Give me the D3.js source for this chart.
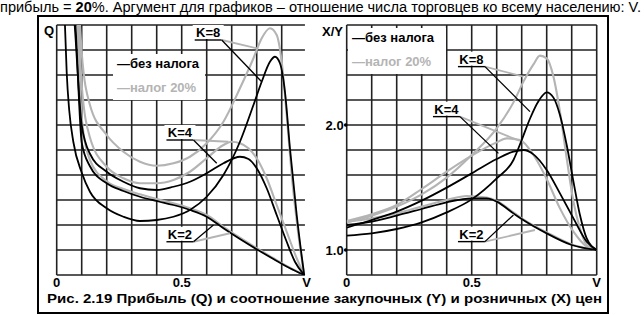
<!DOCTYPE html>
<html>
<head>
<meta charset="utf-8">
<script src="https://cdn.jsdelivr.net/npm/d3@7"></script>
<style>
body {margin:0; background:#fff;}
svg {display:block;}
text {font-family: Arial, "Liberation Sans", sans-serif;}
</style>
</head>
<body>
<svg id="fig" width="644" height="315"></svg>
<script>
// ---- data: [V, value]
// left: profit Q (grid units)
var q_black_k8 = [[0.03,11],[0.033,10],[0.04,8.1],[0.05,6.6],[0.067,5.3],[0.1,4.1],[0.133,3.33],[0.2,2.67],[0.267,2.33],[0.333,2.16],[0.4,2.2],[0.467,2.33],[0.533,2.6],[0.6,3.13],[0.667,4.0],[0.733,5.33],[0.787,6.8],[0.82,7.73],[0.853,8.53],[0.873,8.73],[0.893,8.47],[0.913,7.33],[0.933,5.07],[0.96,2.4],[0.99,0]];
var q_gray_k8 = [[0.085,11],[0.093,10],[0.1,8.9],[0.133,6.8],[0.2,5.6],[0.267,4.93],[0.333,4.53],[0.4,4.37],[0.467,4.47],[0.533,4.73],[0.6,5.27],[0.667,6.13],[0.733,7.47],[0.787,8.67],[0.82,9.47],[0.853,9.87],[0.88,9.6],[0.9,8.53],[0.92,6.4],[0.94,4.0],[0.967,1.6],[0.99,0]];
var q_black_k4 = [[0.065,11],[0.072,10],[0.1,6.0],[0.133,4.85],[0.2,4.13],[0.267,3.73],[0.333,3.47],[0.4,3.4],[0.467,3.53],[0.533,3.73],[0.6,4.07],[0.667,4.47],[0.733,4.73],[0.767,4.64],[0.8,4.27],[0.84,3.47],[0.88,2.4],[0.92,1.33],[0.953,0.53],[0.99,0]];
var q_gray_k4 = [[0.08,11],[0.088,10],[0.1,7.6],[0.133,5.5],[0.2,4.33],[0.267,3.87],[0.333,3.67],[0.4,3.67],[0.467,3.8],[0.533,4.13],[0.6,4.67],[0.667,5.2],[0.7,5.33],[0.733,5.27],[0.767,5.07],[0.8,4.67],[0.84,3.87],[0.88,2.8],[0.92,1.73],[0.96,0.67],[0.99,0]];
var q_black_k2 = [[0.068,11],[0.075,10],[0.1,5.3],[0.133,4.35],[0.2,3.67],[0.267,3.36],[0.333,3.13],[0.4,2.96],[0.467,2.8],[0.533,2.6],[0.6,2.33],[0.667,1.87],[0.733,1.44],[0.8,1.03],[0.867,0.64],[0.933,0.27],[0.99,0]];
var q_gray_k2 = [[0.075,11],[0.083,10],[0.1,6.3],[0.133,4.6],[0.2,3.75],[0.267,3.44],[0.333,3.23],[0.4,3.04],[0.467,2.87],[0.533,2.67],[0.6,2.4],[0.667,1.93],[0.733,1.49],[0.8,1.07],[0.867,0.67],[0.933,0.29],[0.99,0]];

// right: price ratio X/Y
var r_black_k2 = [[0,1.2],[0.1,1.227],[0.2,1.275],[0.3,1.328],[0.4,1.381],[0.5,1.413],[0.56,1.413],[0.6,1.387],[0.667,1.293],[0.7,1.248],[0.8,1.133],[0.9,1.04],[1,1.0]];
var r_gray_k2 = [[0,1.227],[0.1,1.253],[0.2,1.293],[0.3,1.347],[0.4,1.4],[0.48,1.432],[0.56,1.419],[0.6,1.392],[0.667,1.301],[0.7,1.253],[0.8,1.141],[0.9,1.045],[1,1.0]];
var r_black_k4 = [[0,1.179],[0.1,1.24],[0.2,1.307],[0.3,1.395],[0.4,1.499],[0.5,1.613],[0.6,1.728],[0.667,1.787],[0.707,1.8],[0.747,1.765],[0.8,1.64],[0.853,1.453],[0.907,1.253],[0.96,1.067],[1,1.0]];
var r_gray_k4 = [[0,1.232],[0.1,1.285],[0.2,1.36],[0.3,1.488],[0.4,1.627],[0.5,1.755],[0.6,1.861],[0.64,1.893],[0.693,1.88],[0.747,1.76],[0.8,1.568],[0.853,1.333],[0.907,1.147],[0.96,1.027],[1,1.0]];
var r_black_k8 = [[0,1.115],[0.1,1.133],[0.2,1.168],[0.3,1.221],[0.4,1.301],[0.5,1.405],[0.6,1.573],[0.667,1.72],[0.7,1.88],[0.733,2.05],[0.767,2.19],[0.8,2.261],[0.827,2.219],[0.853,2.08],[0.88,1.84],[0.907,1.547],[0.933,1.28],[0.96,1.093],[1,1.0]];
var r_gray_k8 = [[0,1.221],[0.1,1.275],[0.2,1.347],[0.3,1.445],[0.4,1.579],[0.5,1.76],[0.6,1.973],[0.667,2.181],[0.707,2.347],[0.747,2.485],[0.773,2.555],[0.8,2.533],[0.827,2.387],[0.853,2.107],[0.88,1.733],[0.907,1.387],[0.933,1.173],[0.96,1.04],[1,1.0]];

var x_ticks = [0, 0.5, 1];
var x_tick_labels = ["0", "0.5", "V"];
var r_y_ticks = [1.0, 2.0];
var r_y_tick_labels = ["1.0", "2.0"];

var legend_labels = ["\u2014\u0431\u0435\u0437 \u043d\u0430\u043b\u043e\u0433\u0430", "\u2014\u043d\u0430\u043b\u043e\u0433 20%"];
var k_labels = ["K=8", "K=4", "K=2"];
// label anchor (end of underline), gray curve hit, black curve hit
var q_k_anchor = [[0.66,9.4],[0.547,5.4],[0.547,1.33]];
var q_k_gray = [[0.8,9.07],[0.687,5.33],[0.693,1.67]];
var q_k_black = [[0.82,7.73],[0.64,4.47],[0.627,2.0]];
var r_k_anchor = [[0.553,2.467],[0.453,2.067],[0.553,1.067]];
var r_k_gray = [[0.707,2.387],[0.693,1.872],[0.753,1.16]];
var r_k_black = [[0.733,2.107],[0.607,1.773],[0.667,1.28]];

var gray = "#b4b4b4";
var gridcol = "#222";
var svg = d3.select("#fig");

// top text line (cut off above)
var head = svg.append("text").attr("x", 0).attr("y", 11.5)
  .attr("textLength", 641).attr("lengthAdjust", "spacingAndGlyphs")
  .style("font-size", "14px");
head.append("tspan").text("\u043f\u0440\u0438\u0431\u044b\u043b\u044c = ");
head.append("tspan").style("font-weight", "bold").text("20");
head.append("tspan").text("%. \u0410\u0440\u0433\u0443\u043c\u0435\u043d\u0442 \u0434\u043b\u044f \u0433\u0440\u0430\u0444\u0438\u043a\u043e\u0432 \u2013 \u043e\u0442\u043d\u043e\u0448\u0435\u043d\u0438\u0435 \u0447\u0438\u0441\u043b\u0430 \u0442\u043e\u0440\u0433\u043e\u0432\u0446\u0435\u0432 \u043a\u043e \u0432\u0441\u0435\u043c\u0443 \u043d\u0430\u0441\u0435\u043b\u0435\u043d\u0438\u044e: V.");

// frame
svg.append("rect").attr("x", 38).attr("y", 16).attr("width", 570).attr("height", 297)
  .attr("fill", "none").attr("stroke", "#000").attr("stroke-width", 2);

svg.append("text").attr("x", 47).attr("y", 303)
  .attr("textLength", 555).attr("lengthAdjust", "spacingAndGlyphs")
  .style("font-size", "13px").style("font-weight", "bold")
  .text("\u0420\u0438\u0441. 2.19 \u041f\u0440\u0438\u0431\u044b\u043b\u044c (Q) \u0438 \u0441\u043e\u043e\u0442\u043d\u043e\u0448\u0435\u043d\u0438\u0435 \u0437\u0430\u043a\u0443\u043f\u043e\u0447\u043d\u044b\u0445 (Y) \u0438 \u0440\u043e\u0437\u043d\u0438\u0447\u043d\u044b\u0445 (X) \u0446\u0435\u043d");

function panel(id, xs, ys, xmax, curves, yticks, ylabels, vRightLine) {
  var g = svg.append("g");
  var y0 = ys.range()[0], y1 = ys.range()[1];
  var vlines = d3.range(vRightLine ? 11 : 10).map(i => i / 10);
  var ystep = (ys.domain()[1] - ys.domain()[0]) / 10;
  var hlines = d3.range(11).map(i => ys.domain()[0] + i * ystep);

  // grid as one path
  var gp = d3.path();
  vlines.forEach(function(d) { gp.moveTo(xs(d), y1); gp.lineTo(xs(d), y0); });
  hlines.forEach(function(d) { gp.moveTo(xs(0), ys(d)); gp.lineTo(xs(xmax), ys(d)); });
  g.append("path").attr("d", gp.toString())
    .attr("fill", "none").attr("stroke", gridcol).attr("stroke-width", 1.6);

  g.append("clipPath").attr("id", id).append("rect")
    .attr("x", xs(0)).attr("y", y1).attr("width", xs(1) - xs(0)).attr("height", y0 - y1);

  var line = d3.line().x(d => xs(d[0])).y(d => ys(d[1])).curve(d3.curveMonotoneX);
  g.append("g").attr("clip-path", "url(#" + id + ")")
    .selectAll("path").data(curves).enter().append("path")
    .attr("d", d => line(d.pts))
    .attr("fill", "none")
    .attr("stroke", d => d.c)
    .attr("stroke-width", d => d.c == "#000" ? 1.8 : 2.1);

  g.selectAll("text.xt").data(x_ticks).enter().append("text")
    .attr("class", "xt")
    .attr("x", d => xs(d)).attr("y", 287).attr("text-anchor", "middle")
    .style("font-size", "13px").style("font-weight", "bold")
    .text((d, i) => x_tick_labels[i]);

  if (yticks) {
    g.selectAll("circle.yd").data(yticks).enter().append("circle")
      .attr("class", "yd")
      .attr("cx", xs(0) - 1).attr("cy", d => ys(d)).attr("r", 1.8).attr("fill", "#000");
    g.selectAll("text.yt").data(yticks).enter().append("text")
      .attr("class", "yt")
      .attr("x", xs(0) - 3).attr("y", d => ys(d) + 5).attr("text-anchor", "end")
      .style("font-size", "13px").style("font-weight", "bold")
      .text((d, i) => ylabels[i]);
  }
  return g;
}

function legend(g, lx, ly, bw, bh) {
  g.append("rect").attr("x", lx - 4).attr("y", ly - 14).attr("width", bw).attr("height", bh).attr("fill", "#fff");
  g.selectAll("text.lg").data(legend_labels).enter().append("text")
    .attr("class", "lg")
    .attr("x", lx).attr("y", (d, i) => ly + i * 24)
    .attr("fill", (d, i) => i == 0 ? "#000" : gray)
    .style("font-size", "13px").style("font-weight", "bold")
    .text(d => d);
}

function klabels(g, xs, ys, anchors, grays, blacks) {
  var w = 27;
  anchors.forEach(function(a, i) {
    var ax = xs(a[0]), ay = ys(a[1]);
    g.append("rect").attr("x", ax - w - 2).attr("y", ay - 15).attr("width", w + 4).attr("height", 14).attr("fill", "#fff");
    g.append("text").attr("x", ax - w / 2).attr("y", ay - 3).attr("text-anchor", "middle")
      .style("font-size", "13px").style("font-weight", "bold").text(k_labels[i]);
    g.append("line").attr("x1", ax - w).attr("x2", ax).attr("y1", ay).attr("y2", ay)
      .attr("stroke", "#000").attr("stroke-width", 1.4);
    g.append("line").attr("x1", ax).attr("y1", ay).attr("x2", xs(grays[i][0])).attr("y2", ys(grays[i][1]))
      .attr("stroke", gray).attr("stroke-width", 1.8);
    g.append("line").attr("x1", ax).attr("y1", ay).attr("x2", xs(blacks[i][0])).attr("y2", ys(blacks[i][1]))
      .attr("stroke", "#000").attr("stroke-width", 1.3);
  });
}

// left: Q
var xL = d3.scaleLinear().domain([0, 1]).range([56.7, 306.7]);
var yL = d3.scaleLinear().domain([0, 10]).range([275, 25]);
var gL = panel("clipL", xL, yL, 0.993, [
  {pts: q_gray_k2, c: gray}, {pts: q_gray_k4, c: gray}, {pts: q_gray_k8, c: gray},
  {pts: q_black_k2, c: "#000"}, {pts: q_black_k4, c: "#000"}, {pts: q_black_k8, c: "#000"}
], null, null, false);
gL.append("text").attr("x", 44).attr("y", 35).style("font-size", "13px").style("font-weight", "bold").text("Q");
legend(gL, 117, 68, 92, 46);
klabels(gL, xL, yL, q_k_anchor, q_k_gray, q_k_black);

// right: X/Y
var xR = d3.scaleLinear().domain([0, 1]).range([346.7, 596.7]);
var yR = d3.scaleLinear().domain([0.8, 2.8]).range([275, 25]);
var gR = panel("clipR", xR, yR, 1, [
  {pts: r_gray_k2, c: gray}, {pts: r_gray_k4, c: gray}, {pts: r_gray_k8, c: gray},
  {pts: r_black_k2, c: "#000"}, {pts: r_black_k4, c: "#000"}, {pts: r_black_k8, c: "#000"}
], r_y_ticks, r_y_tick_labels, true);
gR.append("text").attr("x", 322).attr("y", 36).style("font-size", "13px").style("font-weight", "bold").text("X/Y");
legend(gR, 352, 42, 98, 46);
klabels(gR, xR, yR, r_k_anchor, r_k_gray, r_k_black);
</script>
</body>
</html>
